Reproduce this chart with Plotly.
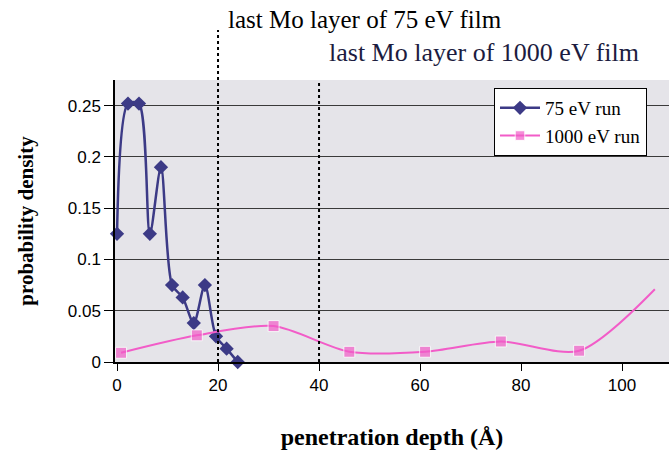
import plotly.graph_objects as go

x75 = [0, 2.17, 4.35, 6.5, 8.7, 10.9, 13.0, 15.2, 17.4, 19.6, 21.7, 23.9]
y75 = [0.125, 0.252, 0.252, 0.125, 0.19, 0.075, 0.063, 0.038, 0.075, 0.025, 0.013, 0.0]

x1000 = [0.8, 15.8, 31.0, 46.0, 61.0, 76.0, 91.5, 106.5]
y1000 = [0.009, 0.026, 0.035, 0.010, 0.010, 0.020, 0.011, 0.071]

layer_lines = [20, 40]
xticks = [0, 20, 40, 60, 80, 100]
yticks = [0, 0.05, 0.1, 0.15, 0.2, 0.25]
ytick_text = ["0", "0.05", "0.1", "0.15", "0.2", "0.25"]

serif = "Liberation Serif"
sans = "Liberation Sans"

fig = go.Figure()
fig.add_trace(go.Scatter(
    x=x75, y=y75, mode="lines+markers", name="75 eV run",
    line=dict(color="#3c3a86", width=2.5, shape="spline", smoothing=0.8),
    marker=dict(symbol="diamond", size=11, color="#3c3a86"),
    cliponaxis=False,
))
fig.add_trace(go.Scatter(
    x=x1000, y=y1000, mode="lines+markers", name="1000 eV run",
    line=dict(color="#f25cc8", width=2, shape="spline", smoothing=0.8),
    marker=dict(symbol="square", size=[11] * (len(x1000) - 1) + [0], color="#f25cc8"),
))

# dotted vertical lines
fig.add_shape(type="line", xref="x", yref="paper", x0=layer_lines[0], x1=layer_lines[0],
              y0=0, y1=1.177, line=dict(color="black", width=2, dash="dot"))
fig.add_shape(type="line", xref="x", yref="paper", x0=layer_lines[1], x1=layer_lines[1],
              y0=0, y1=1.0, line=dict(color="black", width=2, dash="dot"))

fig.add_annotation(text="last Mo layer of 75 eV film", xref="paper", yref="paper",
                   x=(226 - 115) / 554, y=(362 - 20) / 282, xanchor="left", yanchor="middle",
                   showarrow=False, font=dict(family=serif, size=25, color="black"))
fig.add_annotation(text="last Mo layer of 1000 eV film", xref="paper", yref="paper",
                   x=(327 - 115) / 554, y=(362 - 52) / 282, xanchor="left", yanchor="middle",
                   showarrow=False, font=dict(family=serif, size=26, color="#1c1c40"))

fig.update_layout(
    width=669, height=454,
    margin=dict(l=115, r=0, t=80, b=92),
    paper_bgcolor="white",
    plot_bgcolor="#e5e4e9",
    showlegend=True,
    legend=dict(x=(494 - 115) / 554, y=(362 - 88) / 282, xanchor="left", yanchor="top",
                bgcolor="white", bordercolor="black", borderwidth=1,
                font=dict(family=serif, size=19, color="black"),
                tracegroupgap=2, itemwidth=40),
    xaxis=dict(range=[-0.4, 109.3], tickvals=xticks, showgrid=False, zeroline=False,
               showline=True, linecolor="black", linewidth=1.5,
               ticks="outside", ticklen=7, tickcolor="black",
               tickfont=dict(family=sans, size=17, color="black"),
               title=dict(text="penetration depth (Å)", standoff=34,
                          font=dict(family=serif, size=24, color="black", weight="bold"))),
    yaxis=dict(range=[0, 0.275], tickvals=yticks, ticktext=ytick_text,
               showgrid=True, gridcolor="#3a3a3a", gridwidth=1, zeroline=False,
               showline=True, linecolor="black", linewidth=1.5,
               ticks="outside", ticklen=9, tickcolor="black",
               tickfont=dict(family=sans, size=17, color="black"),
               title=dict(text="probability density", standoff=28,
                          font=dict(family=serif, size=21, color="black", weight="bold"))),
)

fig.write_html("out.html")
